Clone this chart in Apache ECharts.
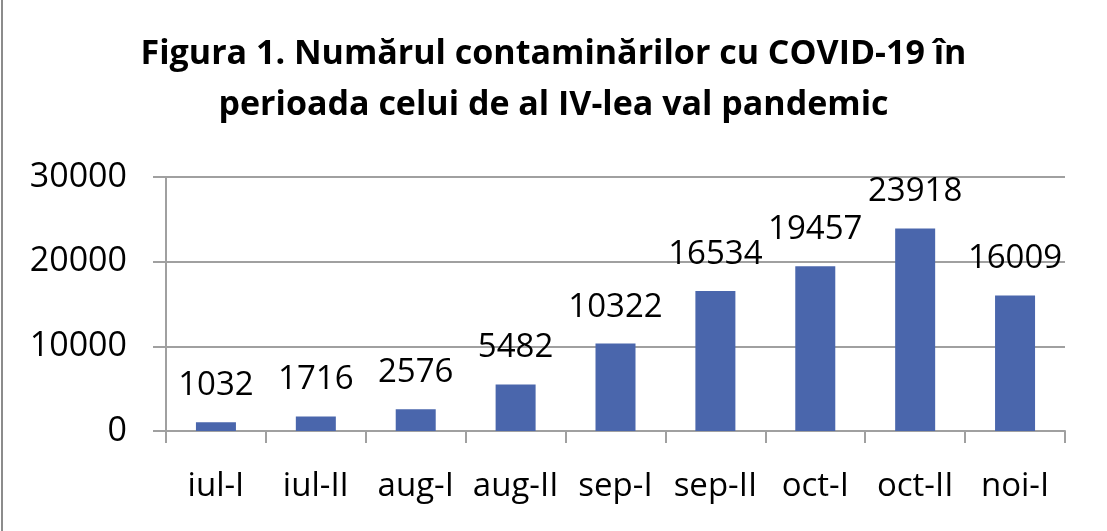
<!DOCTYPE html>
<html>
<head>
<meta charset="utf-8">
<script src="https://cdn.jsdelivr.net/npm/echarts@6/dist/echarts.min.js"></script>
<style>
    html, body { margin: 0; padding: 0; background: #fff; }
    #chart { width: 1107px; height: 531px; }
</style>
</head>
<body>
<div id="chart"></div>
<script>
    // categorii (axa x)
    var categories = ['iul-I', 'iul-II', 'aug-I', 'aug-II', 'sep-I', 'sep-II', 'oct-I', 'oct-II', 'noi-I'];
    // numarul contaminarilor
    var cases = [1032, 1716, 2576, 5482, 10322, 16534, 19457, 23918, 16009];
    // axa y
    var yMin = 0;
    var yMax = 30000;
    var yStep = 10000;

    var font = 'Open Sans';
    var myChart = echarts.init(document.getElementById('chart'));

    var option = {
        animation: false,
        title: {
            text: 'Figura 1. Numărul contaminărilor cu COVID-19 în\nperioada celui de al IV-lea val pandemic',
            left: 'center',
            top: 24,
            textStyle: {
                fontFamily: font,
                fontWeight: 'bold',
                fontSize: 34,
                lineHeight: 51,
                color: '#000'
            }
        },
        grid: {
            left: 166,
            right: 42,
            top: 177,
            bottom: 100
        },
        xAxis: {
            type: 'category',
            data: categories,
            axisLine: { lineStyle: { color: '#a0a0a0', width: 2 } },
            axisTick: { show: true, length: 12, alignWithLabel: false, lineStyle: { color: '#a0a0a0', width: 2 } },
            axisLabel: {
                interval: 0,
                fontFamily: font,
                fontSize: 33,
                color: '#000',
                margin: 39
            }
        },
        yAxis: {
            type: 'value',
            min: yMin,
            max: yMax,
            interval: yStep,
            axisLine: { show: true, lineStyle: { color: '#a0a0a0', width: 2 } },
            axisTick: { show: true, length: 13, lineStyle: { color: '#a0a0a0', width: 2 } },
            splitLine: { lineStyle: { color: '#a0a0a0', width: 2 } },
            axisLabel: {
                fontFamily: font,
                fontSize: 34,
                color: '#000',
                margin: 39,
                formatter: function (v) { return String(v); }
            }
        },
        series: [{
            type: 'bar',
            data: cases,
            barWidth: 40,
            itemStyle: { color: '#4a66ac' },
            label: {
                show: true,
                position: 'top',
                distance: 20,
                fontFamily: font,
                fontSize: 33,
                color: '#000'
            }
        }],
        graphic: [{
            type: 'line',
            shape: { x1: 2, y1: 0, x2: 2, y2: 531 },
            style: { stroke: '#8c8c8c', lineWidth: 2 }
        }]
    };

    myChart.setOption(option);
</script>
</body>
</html>
